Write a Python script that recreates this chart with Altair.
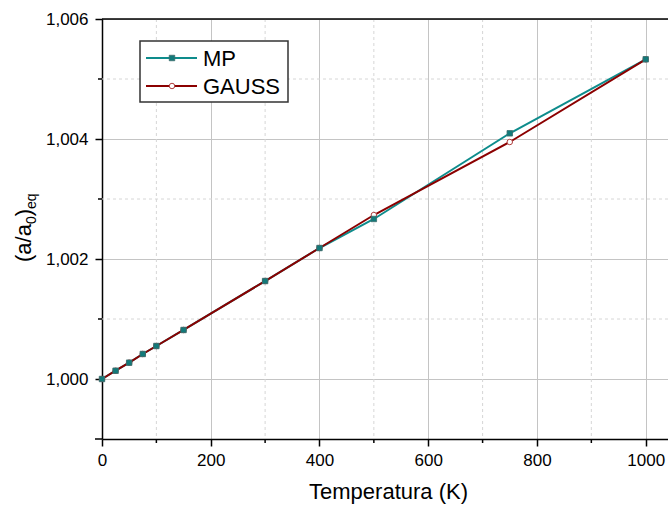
import altair as alt
import pandas as pd

# ---------------- data ----------------
T = [0, 25, 50, 75, 100, 150, 300, 400, 500, 750, 1000]
MP = [1.000000, 1.000138, 1.000272, 1.000417, 1.000550, 1.000817,
      1.001633, 1.002183, 1.002667, 1.004095, 1.005328]
GAUSS = [1.000000, 1.000138, 1.000272, 1.000417, 1.000550, 1.000817,
         1.001633, 1.002183, 1.002733, 1.003950, 1.005328]
SERIES = ["MP", "GAUSS"]
X_MAJOR = [0, 200, 400, 600, 800, 1000]
X_MINOR = [100, 300, 500, 700, 900]
Y_MAJOR = [1.000, 1.002, 1.004, 1.006]
Y_MINOR = [1.001, 1.003, 1.005]
Y_BOTTOM = [0.999]
X_TITLE = "Temperatura (K)"
Y_TITLE_PARTS = ["(a/a", "0", ")", "eq"]

# ---------------- style ----------------
FONT = "Liberation Sans"
LINE_COLORS = ["#0e8c8c", "#8b0000"]
W, H = 566, 420

df = pd.DataFrame({
    "T": T + T,
    "v": MP + GAUSS,
    "s": [SERIES[0]] * len(T) + [SERIES[1]] * len(T),
})

xs = alt.Scale(domain=[0, 1041], nice=False, zero=False)
ys = alt.Scale(domain=[0.999, 1.006], nice=False, zero=False)

x_axis = alt.Axis(values=X_MAJOR, title=X_TITLE, titleFont=FONT, titleFontSize=22,
                  titleFontWeight="normal", titleColor="black", titleX=286, titleY=59,
                  titleBaseline="alphabetic", titleAlign="center",
                  labelFont=FONT, labelFontSize=17, labelColor="black", labelPadding=6,
                  labelFlush=False, labelOverlap=False,
                  tickSize=7, tickWidth=1.5, tickColor="black",
                  domainColor="black", domainWidth=1.5,
                  grid=True, gridColor="#c4c4c4", gridWidth=1, format="d")
y_axis = alt.Axis(values=Y_MAJOR, title=None,
                  labelExpr="replace(format(datum.value, '.3f'), '.', ',')",
                  labelFont=FONT, labelFontSize=17, labelColor="black", labelPadding=7,
                  labelFlush=False, labelOverlap=False,
                  tickSize=7, tickWidth=1.5, tickColor="black",
                  domainColor="black", domainWidth=1.5,
                  grid=True, gridColor="#c4c4c4", gridWidth=1)

X = alt.X("T:Q", scale=xs, axis=x_axis)
Y = alt.Y("v:Q", scale=ys, axis=y_axis)

# minor grid
vminor = alt.Chart(pd.DataFrame({"T": X_MINOR})).mark_rule(
    color="#d6d6d6", strokeDash=[3, 3], strokeWidth=1).encode(x=X)
hminor = alt.Chart(pd.DataFrame({"v": Y_MINOR})).mark_rule(
    color="#d6d6d6", strokeDash=[3, 3], strokeWidth=1).encode(y=Y)

# minor ticks
xticks = alt.Chart(pd.DataFrame({"T": X_MINOR})).mark_rule(
    color="black", strokeWidth=1.5).encode(x=X, y=alt.value(H), y2=alt.value(H + 4))
yticks = alt.Chart(pd.DataFrame({"v": Y_MINOR})).mark_rule(
    color="black", strokeWidth=1.5).encode(y=Y, x=alt.value(-4), x2=alt.value(0))
ybottom = alt.Chart(pd.DataFrame({"v": Y_BOTTOM})).mark_rule(
    color="black", strokeWidth=1.5).encode(y=Y, x=alt.value(-7), x2=alt.value(0))

# top frame
top = alt.Chart(pd.DataFrame({"v": [1.006]})).mark_rule(
    color="black", strokeWidth=1.5).encode(y=Y)

base = alt.Chart(df)
mp_line = base.transform_filter(alt.datum.s == SERIES[0]).mark_line(
    color=LINE_COLORS[0], strokeWidth=2).encode(x=X, y=Y)
ga_line = base.transform_filter(alt.datum.s == SERIES[1]).mark_line(
    color=LINE_COLORS[1], strokeWidth=2).encode(x=X, y=Y)
ga_pts = base.transform_filter(alt.datum.s == SERIES[1]).mark_point(
    shape="circle", filled=True, fill="white", stroke="#b04040", strokeWidth=1,
    size=30, opacity=1).encode(x=X, y=Y)
mp_pts = base.transform_filter(alt.datum.s == SERIES[0]).mark_point(
    shape="square", filled=True, fill="#127a7a", stroke="#3b6b6b", strokeWidth=0.8,
    size=30, opacity=1).encode(x=X, y=Y)

# legend
one = pd.DataFrame({"k": [0]})
legend_layers = [
    alt.Chart(one).mark_rect(fill="white", stroke="#333333", strokeWidth=1.5).encode(
        x=alt.value(38), x2=alt.value(186), y=alt.value(22), y2=alt.value(83))
]
for i, name in enumerate(SERIES):
    ly = 39 + 28 * i
    ld = pd.DataFrame({"s": [name]})
    legend_layers.append(alt.Chart(ld).mark_rule(color=LINE_COLORS[i], strokeWidth=2).encode(
        x=alt.value(44), x2=alt.value(95), y=alt.value(ly)))
    if i == 0:
        pt = alt.Chart(ld).mark_point(shape="square", filled=True, fill="#127a7a",
                                      stroke="#3b6b6b", strokeWidth=0.8, size=30, opacity=1)
    else:
        pt = alt.Chart(ld).mark_point(shape="circle", filled=True, fill="white",
                                      stroke="#b04040", strokeWidth=1, size=30, opacity=1)
    legend_layers.append(pt.encode(x=alt.value(70), y=alt.value(ly)))
    legend_layers.append(alt.Chart(ld).mark_text(
        align="left", baseline="middle", font=FONT, fontSize=22, color="black").encode(
        x=alt.value(101), y=alt.value(ly + 1), text="s:N"))

# y title with subscripts
title_specs = [  # (text, x, y, size)
    (Y_TITLE_PARTS[0], -71, 243, 22),
    (Y_TITLE_PARTS[1], -66, 205, 14),
    (Y_TITLE_PARTS[2], -71, 197.3, 22),
    (Y_TITLE_PARTS[3], -66, 190, 14),
]
title_layers = []
for txt, tx, ty, fs in title_specs:
    title_layers.append(alt.Chart(pd.DataFrame({"t": [txt]})).mark_text(
        angle=270, align="left", baseline="alphabetic", font=FONT, fontSize=fs,
        color="black").encode(x=alt.value(tx), y=alt.value(ty), text="t:N"))

chart = alt.layer(
    vminor, hminor, mp_line, ga_line, ga_pts, mp_pts,
    xticks, yticks, ybottom, top, *legend_layers, *title_layers
).properties(
    width=W, height=H,
    padding={"left": 102, "top": 19, "right": 0, "bottom": 70},
    autosize=alt.AutoSizeParams(type="none"),
).configure_view(stroke=None)

chart.save("out.html", embed_options={"renderer": "svg", "actions": False})
